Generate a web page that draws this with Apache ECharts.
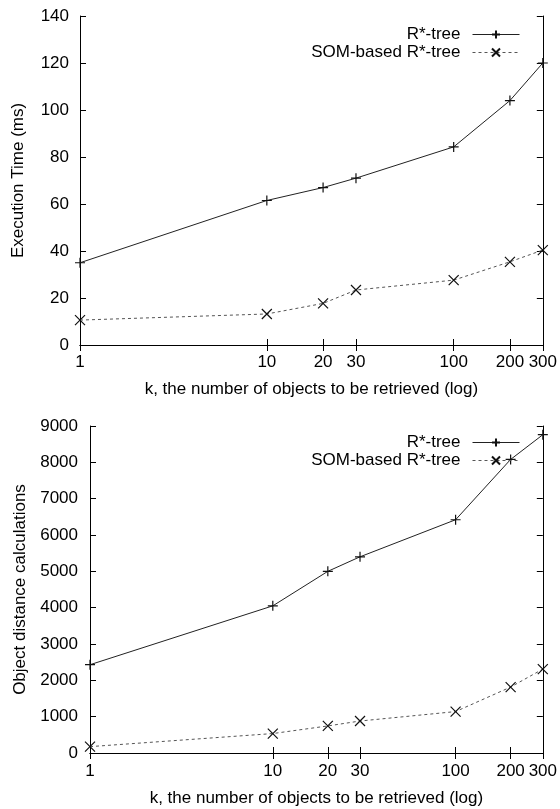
<!DOCTYPE html>
<html>
<head>
<meta charset="utf-8">
<script src="https://cdn.jsdelivr.net/npm/echarts@6/dist/echarts.min.js"></script>
<style>
  html, body { margin: 0; padding: 0; background: #fff; }
  #chart { width: 560px; height: 809px; }
</style>
</head>
<body>
<div id="chart"></div>
<script>
// k values (log x axis), same for both panels
const kValues = [1, 10, 20, 30, 100, 200, 300];
const xTicks = [1, 10, 20, 30, 100, 200, 300];

// top panel: execution time (ms)
const timeRtree = [35, 61.5, 67, 71, 84.3, 104, 120];
const timeSom = [10.6, 13.2, 17.7, 23.4, 27.6, 35.4, 40.4];

// bottom panel: object distance calculations
const distRtree = [2430, 4050, 5000, 5400, 6420, 8080, 8760];
const distSom = [175, 535, 745, 880, 1140, 1815, 2310];

const FONT = "'Liberation Sans', Arial, sans-serif";
const FS = 17;
const PLUS = "path://M0,5L10,5M5,0L5,10";
const CROSS = "path://M0,0L10,10M10,0L0,10";

const chart = echarts.init(document.getElementById("chart"));

function pairs(ys) {
  return kValues.map((k, i) => [k, ys[i]]);
}

function xAxis(gridIndex, mirror, margin, nameGap) {
  return {
    type: "log",
    logBase: 10,
    gridIndex: gridIndex,
    position: mirror ? "top" : "bottom",
    min: 1,
    max: 300,
    name: mirror ? "" : "k, the number of objects to be retrieved (log)",
    nameLocation: "middle",
    nameGap: nameGap,
    nameTextStyle: { color: "#000", fontSize: FS, fontFamily: FONT },
    axisLine: { show: true, lineStyle: { color: "#000", width: 1 } },
    axisTick: { show: true, inside: true, length: 6, customValues: xTicks, lineStyle: { color: "#000" } },
    minorTick: { show: false },
    axisLabel: {
      show: !mirror,
      customValues: xTicks,
      margin: margin,
      color: "#000",
      fontSize: FS,
      fontFamily: FONT,
      formatter: (v) => String(Math.round(v))
    },
    splitLine: { show: false }
  };
}

function yAxis(gridIndex, mirror, max, interval, name, nameGap, margin) {
  return {
    type: "value",
    gridIndex: gridIndex,
    position: mirror ? "right" : "left",
    min: 0,
    max: max,
    interval: interval,
    name: mirror ? "" : name,
    nameLocation: "middle",
    nameGap: nameGap,
    nameTextStyle: { color: "#000", fontSize: FS, fontFamily: FONT },
    axisLine: { show: true, lineStyle: { color: "#000", width: 1 } },
    axisTick: { show: true, inside: true, length: 6, lineStyle: { color: "#000" } },
    axisLabel: {
      show: !mirror,
      margin: margin,
      color: "#000",
      fontSize: FS,
      fontFamily: FONT,
      formatter: (v) => String(v)
    },
    splitLine: { show: false }
  };
}

function lineSeries(name, xi, yi, ys, dashed) {
  return {
    name: name,
    type: "line",
    xAxisIndex: xi,
    yAxisIndex: yi,
    data: pairs(ys),
    symbol: dashed ? CROSS : PLUS,
    symbolSize: 10,
    showAllSymbol: true,
    lineStyle: { color: dashed ? "#555" : "#222", width: 1, type: dashed ? [3, 3] : "solid" },
    itemStyle: { color: "transparent", borderColor: "#111", borderWidth: 1.2 },
    emphasis: { disabled: true },
    animation: false
  };
}

function legend(name, top) {
  return {
    data: [name],
    right: 35,
    top: top,
    align: "right",
    itemWidth: 47,
    itemHeight: 10,
    selectedMode: false,
    lineStyle: { width: 1 },
    textStyle: { color: "#000", fontSize: FS, fontFamily: FONT, padding: [0, 7, 0, 0] }
  };
}

chart.setOption({
  backgroundColor: "#fff",
  animation: false,
  grid: [
    { left: 80, right: 14, top: 16, height: 329 },
    { left: 90, right: 14, top: 426, height: 327 }
  ],
  legend: [
    legend("R*-tree", 21),
    legend("SOM-based R*-tree", 39),
    legend("R*-tree", 429),
    legend("SOM-based R*-tree", 447)
  ],
  xAxis: [xAxis(0, false, 9, 36), xAxis(0, true, 9, 36), xAxis(1, false, 10, 37), xAxis(1, true, 10, 37)],
  yAxis: [
    yAxis(0, false, 140, 20, "Execution Time (ms)", 53, 11),
    yAxis(0, true, 140, 20, "", 0, 11),
    yAxis(1, false, 9000, 1000, "Object distance calculations", 58, 12),
    yAxis(1, true, 9000, 1000, "", 0, 12)
  ],
  series: [
    lineSeries("R*-tree", 0, 0, timeRtree, false),
    lineSeries("SOM-based R*-tree", 0, 0, timeSom, true),
    lineSeries("R*-tree", 2, 2, distRtree, false),
    lineSeries("SOM-based R*-tree", 2, 2, distSom, true)
  ]
});
</script>
</body>
</html>
